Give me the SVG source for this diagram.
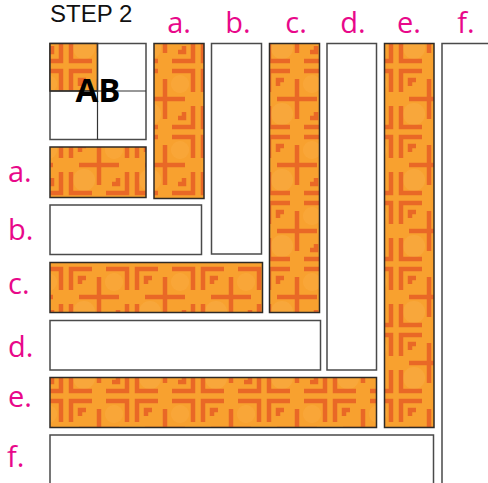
<svg xmlns="http://www.w3.org/2000/svg" width="488" height="483" viewBox="0 0 488 483">
<style>
.lbl{font-family:"Open Sans","Liberation Sans",sans-serif;font-size:29px;fill:#e8088a}
.top{text-anchor:middle}
.title{font-family:"Liberation Sans",Arial,sans-serif;font-size:24px;fill:#111}
.ab{font-family:"Open Sans","Liberation Sans",sans-serif;font-size:33px;font-weight:700;fill:#000;text-anchor:middle}
.fab{fill:url(#fabric);stroke:#2e2a26;stroke-width:1.5}
.blank{fill:#fff;stroke:#4a4a4a;stroke-width:1.5}
.div{stroke:#333;stroke-width:1.2;fill:none}
</style>
<defs>
<pattern id="fabric" patternUnits="userSpaceOnUse" width="66" height="66">
<rect width="66" height="66" fill="#f8a12f"/>
<circle cx="18" cy="48" r="11" fill="#fbb757" opacity="0.3"/>
<circle cx="48" cy="18" r="9" fill="#fbb452" opacity="0.25"/>
<g fill="none" stroke="#e96826" stroke-width="4.5" stroke-linecap="butt">
<path d="M5 26 V5 H26"/>
<path d="M40 5 H61 V26"/>
<path d="M61 40 V61 H40"/>
<path d="M5 40 V61 H26"/>
<path d="M33 13 V53 M13 33 H53"/>
<path d="M14 20 V14 H20"/>
<path d="M52 46 V52 H46"/>
</g>
</pattern>
</defs>
<text class="title" x="50" y="22">STEP 2</text>
<g id="top-labels">
<text class="lbl top" x="179" y="33">a.</text>
<text class="lbl top" x="238" y="33">b.</text>
<text class="lbl top" x="296" y="33">c.</text>
<text class="lbl top" x="353" y="33">d.</text>
<text class="lbl top" x="409" y="33">e.</text>
<text class="lbl top" x="466" y="33">f.</text>
</g>
<g id="left-labels">
<text class="lbl" x="8" y="182">a.</text>
<text class="lbl" x="8" y="240">b.</text>
<text class="lbl" x="8" y="294">c.</text>
<text class="lbl" x="8" y="357">d.</text>
<text class="lbl" x="8" y="407">e.</text>
<text class="lbl" x="7" y="467">f.</text>
</g>
<g id="block-AB">
<rect class="blank" x="50" y="43.5" width="96" height="96"/>
<rect class="fab" x="50" y="43.5" width="47.5" height="47.5"/>
<path class="div" d="M97.5 43.5 V139.5 M50 91 H146"/>
<text class="ab" x="98" y="101.5">AB</text>
</g>
<g id="strip-a-h"><rect class="fab" x="50" y="147" width="96" height="50.5"/></g>
<g id="strip-a-v"><rect class="fab" x="154" y="43.5" width="50" height="155"/></g>
<g id="strip-b-h"><rect class="blank" x="50" y="205" width="151.5" height="49.5"/></g>
<g id="strip-b-v"><rect class="blank" x="211.5" y="43.5" width="50" height="210.5"/></g>
<g id="strip-c-h"><rect class="fab" x="50" y="262.5" width="212.5" height="50"/></g>
<g id="strip-c-v"><rect class="fab" x="269.5" y="43.5" width="50" height="269"/></g>
<g id="strip-d-h"><rect class="blank" x="50" y="320.5" width="270.5" height="49.5"/></g>
<g id="strip-d-v"><rect class="blank" x="327" y="43.5" width="49.5" height="326.5"/></g>
<g id="strip-e-h"><rect class="fab" x="50" y="377.5" width="326.5" height="50"/></g>
<g id="strip-e-v"><rect class="fab" x="384.5" y="43.5" width="49.5" height="384"/></g>
<g id="strip-f-h"><rect class="blank" x="50" y="435" width="383.5" height="60"/></g>
<g id="strip-f-v"><rect class="blank" x="442" y="43.5" width="60" height="460"/></g>
<g id="connectors"/>
</svg>
